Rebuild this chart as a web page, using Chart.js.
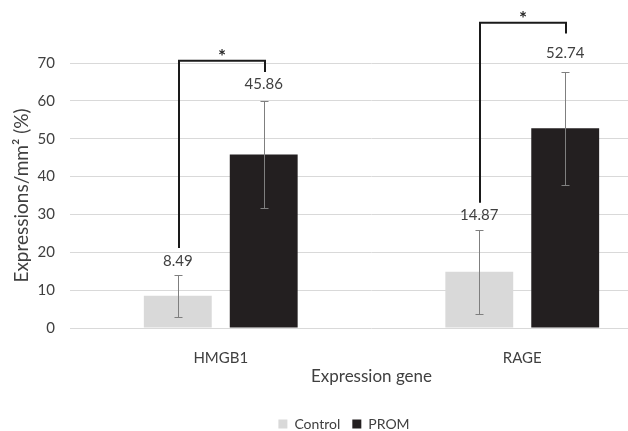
<!DOCTYPE html>
<html>
<head>
<meta charset="utf-8">
<script src="https://cdn.jsdelivr.net/npm/chart.js@4/dist/chart.umd.min.js"></script>
<style>
  html, body { margin: 0; padding: 0; background: #fff; }
  #wrap { width: 628px; height: 431px; overflow: hidden; position: relative; }
  #box { width: 686px; height: 431px; position: absolute; left: 0; top: 0; }
</style>
</head>
<body>
<div id="wrap"><div id="box"><canvas id="c"></canvas></div></div>
<script>
// ---- data ----
const categories = ['HMGB1', 'RAGE'];
const seriesNames = ['Control', 'PROM'];
const controlValues = [8.49, 14.87];
const promValues = [45.86, 52.74];
const controlErrors = [5.6, 11.1];
const promErrors = [14.2, 14.85];
const yTicks = [0, 10, 20, 30, 40, 50, 60, 70];
// data-unit positions of the value labels and significance brackets
const controlLabelY = [17.7, 29.8];
const promLabelY = [64.4, 72.7];
const bracketTop = [70.6, 80.6];
const bracketControlEnd = [21.1, 33.1];
const bracketPromEnd = [67.6, 77.8];
const significance = ['*', '*'];

const FONT = 'Lato, "Open Sans", sans-serif';
const TEXT = '#404040';

const errorBars = {
  id: 'errorBars',
  afterDatasetsDraw(chart) {
    const ctx = chart.ctx, y = chart.scales.y;
    const errs = [controlErrors, promErrors];
    const vals = [controlValues, promValues];
    ctx.save();
    ctx.strokeStyle = '#7f7f7f';
    ctx.lineWidth = 1;
    [0, 1].forEach(d => {
      chart.getDatasetMeta(d).data.forEach((bar, i) => {
        const x = Math.round(bar.x) + 0.5;
        const t = Math.round(y.getPixelForValue(vals[d][i] + errs[d][i])) + 0.5;
        const b = Math.round(y.getPixelForValue(vals[d][i] - errs[d][i])) + 0.5;
        ctx.beginPath();
        ctx.moveTo(x, t); ctx.lineTo(x, b);
        ctx.moveTo(x - 4, t); ctx.lineTo(x + 4, t);
        ctx.moveTo(x - 4, b); ctx.lineTo(x + 4, b);
        ctx.stroke();
      });
    });
    ctx.restore();
  },
  afterDraw(chart) {
    const ctx = chart.ctx, y = chart.scales.y;
    const c = chart.getDatasetMeta(0).data, p = chart.getDatasetMeta(1).data;
    ctx.save();
    // value labels
    ctx.fillStyle = TEXT;
    ctx.font = '15px ' + FONT;
    ctx.textAlign = 'center';
    ctx.textBaseline = 'middle';
    c.forEach((bar, i) => ctx.fillText(controlValues[i].toFixed(2), bar.x, y.getPixelForValue(controlLabelY[i])));
    p.forEach((bar, i) => ctx.fillText(promValues[i].toFixed(2), bar.x, y.getPixelForValue(promLabelY[i])));
    // brackets
    ctx.strokeStyle = '#1a1a1a';
    ctx.lineWidth = 2;
    categories.forEach((cat, i) => {
      const xl = Math.round(c[i].x) + 1, xr = Math.round(p[i].x) + 1;
      const top = y.getPixelForValue(bracketTop[i]);
      ctx.beginPath();
      ctx.moveTo(xl, y.getPixelForValue(bracketControlEnd[i]));
      ctx.lineTo(xl, top);
      ctx.lineTo(xr, top);
      ctx.lineTo(xr, y.getPixelForValue(bracketPromEnd[i]));
      ctx.stroke();
      ctx.fillStyle = '#262626';
      ctx.font = 'bold 19px ' + FONT;
      ctx.textBaseline = 'alphabetic';
      ctx.fillText(significance[i], (xl + xr) / 2, top + 2);
    });
    ctx.restore();
  }
};

new Chart(document.getElementById('c'), {
  type: 'bar',
  data: {
    labels: categories,
    datasets: [
      { label: seriesNames[0], data: controlValues, backgroundColor: '#d9d9d9' },
      { label: seriesNames[1], data: promValues, backgroundColor: '#231f20' }
    ]
  },
  options: {
    responsive: true,
    maintainAspectRatio: false,
    animation: false,
    devicePixelRatio: 1,
    categoryPercentage: 0.57,
    barPercentage: 0.79,
    layout: { padding: { left: 15, right: 13, top: 63, bottom: 0 } },
    plugins: {
      tooltip: { enabled: false },
      legend: {
        position: 'bottom',
        maxHeight: 26,
        labels: {
          boxWidth: 9, boxHeight: 9, padding: 12,
          color: TEXT, font: { family: FONT, size: 14 }
        }
      }
    },
    scales: {
      x: {
        grid: { display: false },
        border: { display: false },
        ticks: { color: TEXT, font: { family: FONT, size: 15 }, padding: 13 },
        title: { display: true, text: 'Expression gene', color: TEXT,
                 font: { family: FONT, size: 17 }, padding: { top: 0, bottom: 18 } },
        afterFit(s) { s.height = 77; }
      },
      y: {
        min: 0, max: 70,
        afterBuildTicks(s) { s.ticks = yTicks.map(v => ({ value: v })); },
        grid: { color: '#d9d9d9', lineWidth: 1, drawTicks: false },
        border: { display: false },
        ticks: { color: TEXT, font: { family: FONT, size: 15 }, padding: 15 },
        title: { display: true, text: 'Expressions/mm² (%)', color: TEXT,
                 font: { family: FONT, size: 19 }, padding: { top: -4.4, bottom: 0 } },
        afterFit(s) { s.width = 55; }
      }
    }
  },
  plugins: [errorBars]
});
</script>
</body>
</html>
